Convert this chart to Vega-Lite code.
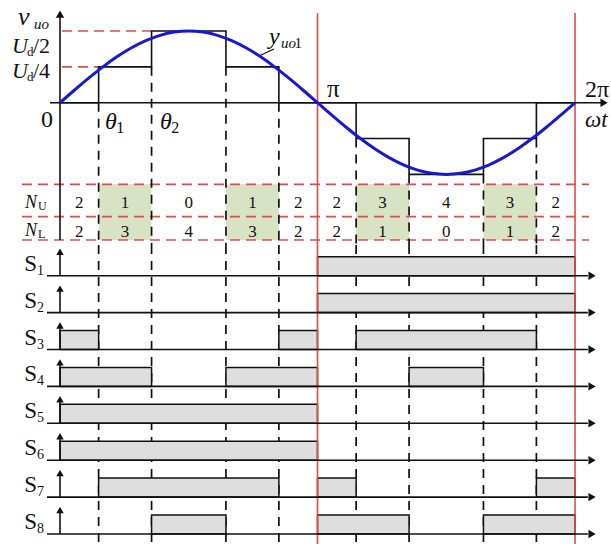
{
  "$schema": "https://vega.github.io/schema/vega-lite/v6.json",
  "autosize": {"type": "pad"},
  "padding": 0,
  "spacing": 0,
  "bounds": "flush",
  "background": "white",
  "config": {"view": {"stroke": null}, "concat": {"spacing": 0}, "axis": {"disable": true}, "font": "Liberation Serif", "text": {"font": "Liberation Serif", "color": "#111"}},
  "datasets": {
    "sine": [
      {"t": 0, "v": 0}, {"t": 10, "v": 0.3473}, {"t": 20, "v": 0.684}, {"t": 30, "v": 1.0}, {"t": 40, "v": 1.2856},
      {"t": 50, "v": 1.5321}, {"t": 60, "v": 1.7321}, {"t": 70, "v": 1.8794}, {"t": 80, "v": 1.9696}, {"t": 90, "v": 2.0},
      {"t": 100, "v": 1.9696}, {"t": 110, "v": 1.8794}, {"t": 120, "v": 1.7321}, {"t": 130, "v": 1.5321}, {"t": 140, "v": 1.2856},
      {"t": 150, "v": 1.0}, {"t": 160, "v": 0.684}, {"t": 170, "v": 0.3473}, {"t": 180, "v": 0},
      {"t": 190, "v": -0.3473}, {"t": 200, "v": -0.684}, {"t": 210, "v": -1.0}, {"t": 220, "v": -1.2856},
      {"t": 230, "v": -1.5321}, {"t": 240, "v": -1.7321}, {"t": 250, "v": -1.8794}, {"t": 260, "v": -1.9696}, {"t": 270, "v": -2.0},
      {"t": 280, "v": -1.9696}, {"t": 290, "v": -1.8794}, {"t": 300, "v": -1.7321}, {"t": 310, "v": -1.5321}, {"t": 320, "v": -1.2856},
      {"t": 330, "v": -1.0}, {"t": 340, "v": -0.684}, {"t": 350, "v": -0.3473}, {"t": 360, "v": 0}
    ],
    "stepwave": [
      {"t": 0, "v": 0}, {"t": 27, "v": 1}, {"t": 64, "v": 2}, {"t": 116, "v": 1}, {"t": 153, "v": 0},
      {"t": 207, "v": -1}, {"t": 244, "v": -2}, {"t": 296, "v": -1}, {"t": 333, "v": 0}, {"t": 360, "v": 0}
    ],
    "edges": [
      {"t": 27, "top": 0, "bot": -3.969}, {"t": 64, "top": 1, "bot": -3.969}, {"t": 116, "top": 1, "bot": -3.969}, {"t": 153, "top": 0, "bot": -3.969},
      {"t": 207, "top": -1, "bot": -3.969}, {"t": 244, "top": -2, "bot": -3.969}, {"t": 296, "top": -2, "bot": -3.969}, {"t": 333, "top": -1, "bot": -3.969}
    ],
    "cells": [
      {"a": 0, "b": 27, "mid": 13.5, "nu": "2", "nl": "2", "hl": false, "hi": -2.276, "lo": -3.83},
      {"a": 27, "b": 64, "mid": 45.5, "nu": "1", "nl": "3", "hl": true, "hi": -2.276, "lo": -3.83},
      {"a": 64, "b": 116, "mid": 90, "nu": "0", "nl": "4", "hl": false, "hi": -2.276, "lo": -3.83},
      {"a": 116, "b": 153, "mid": 134.5, "nu": "1", "nl": "3", "hl": true, "hi": -2.276, "lo": -3.83},
      {"a": 153, "b": 180, "mid": 166.5, "nu": "2", "nl": "2", "hl": false, "hi": -2.276, "lo": -3.83},
      {"a": 180, "b": 207, "mid": 193.5, "nu": "2", "nl": "2", "hl": false, "hi": -2.276, "lo": -3.83},
      {"a": 207, "b": 244, "mid": 225.5, "nu": "3", "nl": "1", "hl": true, "hi": -2.276, "lo": -3.83},
      {"a": 244, "b": 296, "mid": 270, "nu": "4", "nl": "0", "hl": false, "hi": -2.276, "lo": -3.83},
      {"a": 296, "b": 333, "mid": 314.5, "nu": "3", "nl": "1", "hl": true, "hi": -2.276, "lo": -3.83},
      {"a": 333, "b": 360, "mid": 346.5, "nu": "2", "nl": "2", "hl": false, "hi": -2.276, "lo": -3.83}
    ],
    "hsegs": [
      {"x0": -26.56, "x1": 369.8, "lv": -2.276}, {"x0": -26.56, "x1": 369.8, "lv": -3.18}, {"x0": -26.56, "x1": 369.8, "lv": -3.83},
      {"x0": 1.4, "x1": 64, "lv": 2}, {"x0": 1.4, "x1": 27, "lv": 1}
    ],
    "segs": [
      {"kind": "axis", "x0": -6.99, "x1": 379, "y0": 0, "y1": 0},
      {"kind": "axis", "x0": 0, "x1": 0, "y0": 2.45, "y1": -3.83},
      {"kind": "leader", "x0": 139.1, "x1": 149.6, "y0": 1.302, "y1": 1.498}
    ],
    "reds": [{"t": 180, "top": 2.5, "bot": -3.969}, {"t": 360, "top": 2.5, "bot": -3.969}],
    "sigs": [
      {"row": 1, "sub": "1", "from": -9.09, "to": 369}, {"row": 2, "sub": "2", "from": -9.09, "to": 369},
      {"row": 3, "sub": "3", "from": -9.09, "to": 369}, {"row": 4, "sub": "4", "from": -9.09, "to": 369},
      {"row": 5, "sub": "5", "from": -9.09, "to": 369}, {"row": 6, "sub": "6", "from": -9.09, "to": 369},
      {"row": 7, "sub": "7", "from": -9.09, "to": 369}, {"row": 8, "sub": "8", "from": -9.09, "to": 369}
    ],
    "pulses": [
      {"row": 1, "a": 180, "b": 360},
      {"row": 2, "a": 180, "b": 360},
      {"row": 3, "a": 0, "b": 27}, {"row": 3, "a": 153, "b": 180}, {"row": 3, "a": 207, "b": 333},
      {"row": 4, "a": 0, "b": 64}, {"row": 4, "a": 116, "b": 180}, {"row": 4, "a": 244, "b": 296},
      {"row": 5, "a": 0, "b": 180},
      {"row": 6, "a": 0, "b": 180},
      {"row": 7, "a": 27, "b": 153}, {"row": 7, "a": 180, "b": 207}, {"row": 7, "a": 333, "b": 360},
      {"row": 8, "a": 64, "b": 116}, {"row": 8, "a": 180, "b": 244}, {"row": 8, "a": 296, "b": 360}
    ]
  },
  "vconcat": [
    {
      "width": 611,
      "height": 245,
      "layer": [
        {
          "data": {"name": "cells"},
          "transform": [{"filter": "datum.hl"}],
          "mark": {"type": "rect", "color": "#d7e3c4"},
          "encoding": {
            "x": {"field": "a", "type": "quantitative", "scale": {"domain": [-41.94, 385.15], "nice": false, "zero": false}},
            "x2": {"field": "b"},
            "y": {"field": "hi", "type": "quantitative", "scale": {"domain": [-3.969, 2.865], "nice": false, "zero": false}},
            "y2": {"field": "lo"}
          }
        },
        {
          "data": {"name": "hsegs"},
          "mark": {"type": "rule", "color": "#e34b4b", "strokeWidth": 1.7, "strokeDash": [10, 6]},
          "encoding": {
            "x": {"field": "x0", "type": "quantitative"},
            "x2": {"field": "x1"},
            "y": {"field": "lv", "type": "quantitative"}
          }
        },
        {
          "data": {"name": "edges"},
          "mark": {"type": "rule", "color": "#111", "strokeWidth": 1.7, "strokeDash": [9, 7]},
          "encoding": {
            "x": {"field": "t", "type": "quantitative"},
            "y": {"field": "top", "type": "quantitative"},
            "y2": {"field": "bot"}
          }
        },
        {
          "data": {"name": "reds"},
          "mark": {"type": "rule", "color": "#e34b4b", "strokeWidth": 1.6},
          "encoding": {
            "x": {"field": "t", "type": "quantitative"},
            "y": {"field": "top", "type": "quantitative"},
            "y2": {"field": "bot"}
          }
        },
        {
          "data": {"name": "segs"},
          "transform": [{"filter": "datum.kind === 'axis'"}],
          "mark": {"type": "rule", "color": "#111", "strokeWidth": 1.6},
          "encoding": {
            "x": {"field": "x0", "type": "quantitative"},
            "x2": {"field": "x1"},
            "y": {"field": "y0", "type": "quantitative"},
            "y2": {"field": "y1"}
          }
        },
        {
          "data": {"name": "segs"},
          "transform": [{"filter": "datum.kind === 'leader'"}],
          "mark": {"type": "rule", "color": "#111", "strokeWidth": 1.2},
          "encoding": {
            "x": {"field": "x0", "type": "quantitative"},
            "x2": {"field": "x1"},
            "y": {"field": "y0", "type": "quantitative"},
            "y2": {"field": "y1"}
          }
        },
        {
          "data": {"values": [{}]},
          "mark": {"type": "point", "shape": "triangle-up", "filled": true, "color": "#111", "size": 70, "opacity": 1},
          "encoding": {"x": {"datum": 0, "type": "quantitative"}, "y": {"datum": 2.47, "type": "quantitative"}}
        },
        {
          "data": {"values": [{}]},
          "mark": {"type": "point", "shape": "triangle-right", "filled": true, "color": "#111", "size": 70, "opacity": 1},
          "encoding": {"x": {"datum": 380.3, "type": "quantitative"}, "y": {"datum": 0, "type": "quantitative"}}
        },
        {
          "data": {"name": "stepwave"},
          "mark": {"type": "line", "interpolate": "step-after", "color": "#111", "strokeWidth": 1.6},
          "encoding": {
            "x": {"field": "t", "type": "quantitative"},
            "y": {"field": "v", "type": "quantitative"}
          }
        },
        {
          "data": {"name": "sine"},
          "mark": {"type": "line", "interpolate": "monotone", "color": "#1818cc", "strokeWidth": 3},
          "encoding": {
            "x": {"field": "t", "type": "quantitative"},
            "y": {"field": "v", "type": "quantitative"}
          }
        },
        {
          "data": {"name": "cells"},
          "mark": {"type": "text", "font": "Liberation Serif", "fontSize": 17, "align": "center", "baseline": "alphabetic"},
          "encoding": {"x": {"field": "mid", "type": "quantitative"}, "y": {"datum": -2.937, "type": "quantitative"}, "text": {"field": "nu", "type": "nominal"}}
        },
        {
          "data": {"name": "cells"},
          "mark": {"type": "text", "font": "Liberation Serif", "fontSize": 17, "align": "center", "baseline": "alphabetic"},
          "encoding": {"x": {"field": "mid", "type": "quantitative"}, "y": {"datum": -3.746, "type": "quantitative"}, "text": {"field": "nl", "type": "nominal"}}
        },
        {"data": {"values": [{}]}, "mark": {"type": "text", "font": "Liberation Serif", "fontSize": 26, "fontStyle": "italic", "align": "left", "baseline": "alphabetic"}, "encoding": {"text": {"value": "v"}, "x": {"datum": -29.36, "type": "quantitative"}, "y": {"datum": 2.167, "type": "quantitative"}}},
        {"data": {"values": [{}]}, "mark": {"type": "text", "font": "Liberation Serif", "fontSize": 15, "fontStyle": "italic", "align": "left", "baseline": "alphabetic"}, "encoding": {"text": {"value": "uo"}, "x": {"datum": -18.17, "type": "quantitative"}, "y": {"datum": 2.056, "type": "quantitative"}}},
        {"data": {"values": [{}]}, "mark": {"type": "text", "font": "Liberation Serif", "fontSize": 22, "fontStyle": "italic", "align": "left", "baseline": "alphabetic"}, "encoding": {"text": {"value": "U"}, "x": {"datum": -33.55, "type": "quantitative"}, "y": {"datum": 1.386, "type": "quantitative"}}},
        {"data": {"values": [{}]}, "mark": {"type": "text", "font": "Liberation Serif", "fontSize": 13, "align": "left", "baseline": "alphabetic"}, "encoding": {"text": {"value": "d"}, "x": {"datum": -23.07, "type": "quantitative"}, "y": {"datum": 1.303, "type": "quantitative"}}},
        {"data": {"values": [{}]}, "mark": {"type": "text", "font": "Liberation Serif", "fontSize": 22, "align": "left", "baseline": "alphabetic"}, "encoding": {"text": {"value": "/2"}, "x": {"datum": -18.87, "type": "quantitative"}, "y": {"datum": 1.386, "type": "quantitative"}}},
        {"data": {"values": [{}]}, "mark": {"type": "text", "font": "Liberation Serif", "fontSize": 22, "fontStyle": "italic", "align": "left", "baseline": "alphabetic"}, "encoding": {"text": {"value": "U"}, "x": {"datum": -33.55, "type": "quantitative"}, "y": {"datum": 0.689, "type": "quantitative"}}},
        {"data": {"values": [{}]}, "mark": {"type": "text", "font": "Liberation Serif", "fontSize": 13, "align": "left", "baseline": "alphabetic"}, "encoding": {"text": {"value": "d"}, "x": {"datum": -23.07, "type": "quantitative"}, "y": {"datum": 0.605, "type": "quantitative"}}},
        {"data": {"values": [{}]}, "mark": {"type": "text", "font": "Liberation Serif", "fontSize": 22, "align": "left", "baseline": "alphabetic"}, "encoding": {"text": {"value": "/4"}, "x": {"datum": -18.87, "type": "quantitative"}, "y": {"datum": 0.689, "type": "quantitative"}}},
        {"data": {"values": [{}]}, "mark": {"type": "text", "font": "Liberation Serif", "fontSize": 24, "align": "center", "baseline": "alphabetic"}, "encoding": {"text": {"value": "0"}, "x": {"datum": -9.09, "type": "quantitative"}, "y": {"datum": -0.678, "type": "quantitative"}}},
        {"data": {"values": [{}]}, "mark": {"type": "text", "font": "Liberation Serif", "fontSize": 24, "fontStyle": "italic", "align": "left", "baseline": "alphabetic"}, "encoding": {"text": {"value": "θ"}, "x": {"datum": 31.46, "type": "quantitative"}, "y": {"datum": -0.736, "type": "quantitative"}}},
        {"data": {"values": [{}]}, "mark": {"type": "text", "font": "Liberation Serif", "fontSize": 16, "align": "left", "baseline": "alphabetic"}, "encoding": {"text": {"value": "1"}, "x": {"datum": 39.4, "type": "quantitative"}, "y": {"datum": -0.845, "type": "quantitative"}}},
        {"data": {"values": [{}]}, "mark": {"type": "text", "font": "Liberation Serif", "fontSize": 24, "fontStyle": "italic", "align": "left", "baseline": "alphabetic"}, "encoding": {"text": {"value": "θ"}, "x": {"datum": 69.9, "type": "quantitative"}, "y": {"datum": -0.736, "type": "quantitative"}}},
        {"data": {"values": [{}]}, "mark": {"type": "text", "font": "Liberation Serif", "fontSize": 16, "align": "left", "baseline": "alphabetic"}, "encoding": {"text": {"value": "2"}, "x": {"datum": 77.8, "type": "quantitative"}, "y": {"datum": -0.845, "type": "quantitative"}}},
        {"data": {"values": [{}]}, "mark": {"type": "text", "font": "Liberation Serif", "fontSize": 25, "align": "left", "baseline": "alphabetic"}, "encoding": {"text": {"value": "π"}, "x": {"datum": 186.6, "type": "quantitative"}, "y": {"datum": 0.159, "type": "quantitative"}}},
        {"data": {"values": [{}]}, "mark": {"type": "text", "font": "Liberation Serif", "fontSize": 24, "align": "left", "baseline": "alphabetic"}, "encoding": {"text": {"value": "2π"}, "x": {"datum": 366.98, "type": "quantitative"}, "y": {"datum": 0.159, "type": "quantitative"}}},
        {"data": {"values": [{}]}, "mark": {"type": "text", "font": "Liberation Serif", "fontSize": 23, "fontStyle": "italic", "align": "left", "baseline": "alphabetic"}, "encoding": {"text": {"value": "ωt"}, "x": {"datum": 366.98, "type": "quantitative"}, "y": {"datum": -0.678, "type": "quantitative"}}},
        {"data": {"values": [{}]}, "mark": {"type": "text", "font": "Liberation Serif", "fontSize": 24, "fontStyle": "italic", "align": "left", "baseline": "alphabetic"}, "encoding": {"text": {"value": "y"}, "x": {"datum": 146.1, "type": "quantitative"}, "y": {"datum": 1.637, "type": "quantitative"}}},
        {"data": {"values": [{}]}, "mark": {"type": "text", "font": "Liberation Serif", "fontSize": 15, "fontStyle": "italic", "align": "left", "baseline": "alphabetic"}, "encoding": {"text": {"value": "uo"}, "x": {"datum": 154.5, "type": "quantitative"}, "y": {"datum": 1.525, "type": "quantitative"}}},
        {"data": {"values": [{}]}, "mark": {"type": "text", "font": "Liberation Serif", "fontSize": 15, "align": "left", "baseline": "alphabetic"}, "encoding": {"text": {"value": "1"}, "x": {"datum": 164.0, "type": "quantitative"}, "y": {"datum": 1.525, "type": "quantitative"}}},
        {"data": {"values": [{}]}, "mark": {"type": "text", "font": "Liberation Serif", "fontSize": 18, "fontStyle": "italic", "align": "left", "baseline": "alphabetic"}, "encoding": {"text": {"value": "N"}, "x": {"datum": -24.47, "type": "quantitative"}, "y": {"datum": -2.937, "type": "quantitative"}}},
        {"data": {"values": [{}]}, "mark": {"type": "text", "font": "Liberation Serif", "fontSize": 12, "align": "left", "baseline": "alphabetic"}, "encoding": {"text": {"value": "U"}, "x": {"datum": -15.38, "type": "quantitative"}, "y": {"datum": -2.993, "type": "quantitative"}}},
        {"data": {"values": [{}]}, "mark": {"type": "text", "font": "Liberation Serif", "fontSize": 18, "fontStyle": "italic", "align": "left", "baseline": "alphabetic"}, "encoding": {"text": {"value": "N"}, "x": {"datum": -24.47, "type": "quantitative"}, "y": {"datum": -3.719, "type": "quantitative"}}},
        {"data": {"values": [{}]}, "mark": {"type": "text", "font": "Liberation Serif", "fontSize": 12, "align": "left", "baseline": "alphabetic"}, "encoding": {"text": {"value": "L"}, "x": {"datum": -15.38, "type": "quantitative"}, "y": {"datum": -3.774, "type": "quantitative"}}}
      ]
    },
    {
      "width": 611,
      "height": 299,
      "layer": [
        {
          "data": {"name": "edges"},
          "mark": {"type": "rule", "color": "#111", "strokeWidth": 1.7, "strokeDash": [9, 7]},
          "encoding": {
            "x": {"field": "t", "type": "quantitative", "scale": {"domain": [-41.94, 385.15], "nice": false, "zero": false}}
          }
        },
        {
          "data": {"name": "pulses"},
          "mark": {"type": "rect", "color": "#dedede", "stroke": "#111", "strokeWidth": 1.5, "y2Offset": -19},
          "encoding": {
            "x": {"field": "a", "type": "quantitative"},
            "x2": {"field": "b"},
            "y": {"field": "row", "type": "quantitative", "scale": {"domain": [0.168, 8.271], "nice": false, "zero": false, "reverse": true}},
            "y2": {"field": "row"}
          }
        },
        {
          "data": {"name": "reds"},
          "mark": {"type": "rule", "color": "#e34b4b", "strokeWidth": 1.6},
          "encoding": {
            "x": {"field": "t", "type": "quantitative"}
          }
        },
        {
          "data": {"name": "sigs"},
          "mark": {"type": "rule", "color": "#111", "strokeWidth": 1.6},
          "encoding": {
            "x": {"field": "from", "type": "quantitative"},
            "x2": {"field": "to"},
            "y": {"field": "row", "type": "quantitative"}
          }
        },
        {
          "data": {"name": "sigs"},
          "mark": {"type": "point", "shape": "triangle-right", "filled": true, "color": "#111", "size": 70, "opacity": 1},
          "encoding": {
            "x": {"datum": 371.9, "type": "quantitative"},
            "y": {"field": "row", "type": "quantitative"}
          }
        },
        {
          "data": {"name": "sigs"},
          "mark": {"type": "rule", "color": "#111", "strokeWidth": 1.6, "y2Offset": -23},
          "encoding": {
            "x": {"datum": 0, "type": "quantitative"},
            "y": {"field": "row", "type": "quantitative"},
            "y2": {"field": "row"}
          }
        },
        {
          "data": {"name": "sigs"},
          "mark": {"type": "point", "shape": "triangle-up", "filled": true, "color": "#111", "size": 55, "opacity": 1, "yOffset": -24},
          "encoding": {
            "x": {"datum": 0, "type": "quantitative"},
            "y": {"field": "row", "type": "quantitative"}
          }
        },
        {
          "data": {"name": "sigs"},
          "mark": {"type": "text", "font": "Liberation Serif", "fontSize": 23, "align": "center", "baseline": "alphabetic", "yOffset": -5},
          "encoding": {
            "text": {"value": "S"},
            "x": {"datum": -20.6, "type": "quantitative"},
            "y": {"field": "row", "type": "quantitative"}
          }
        },
        {
          "data": {"name": "sigs"},
          "mark": {"type": "text", "font": "Liberation Serif", "fontSize": 14, "align": "left", "baseline": "alphabetic", "yOffset": -1},
          "encoding": {
            "x": {"datum": -16.1, "type": "quantitative"},
            "y": {"field": "row", "type": "quantitative"},
            "text": {"field": "sub", "type": "nominal"}
          }
        }
      ]
    }
  ]
}
